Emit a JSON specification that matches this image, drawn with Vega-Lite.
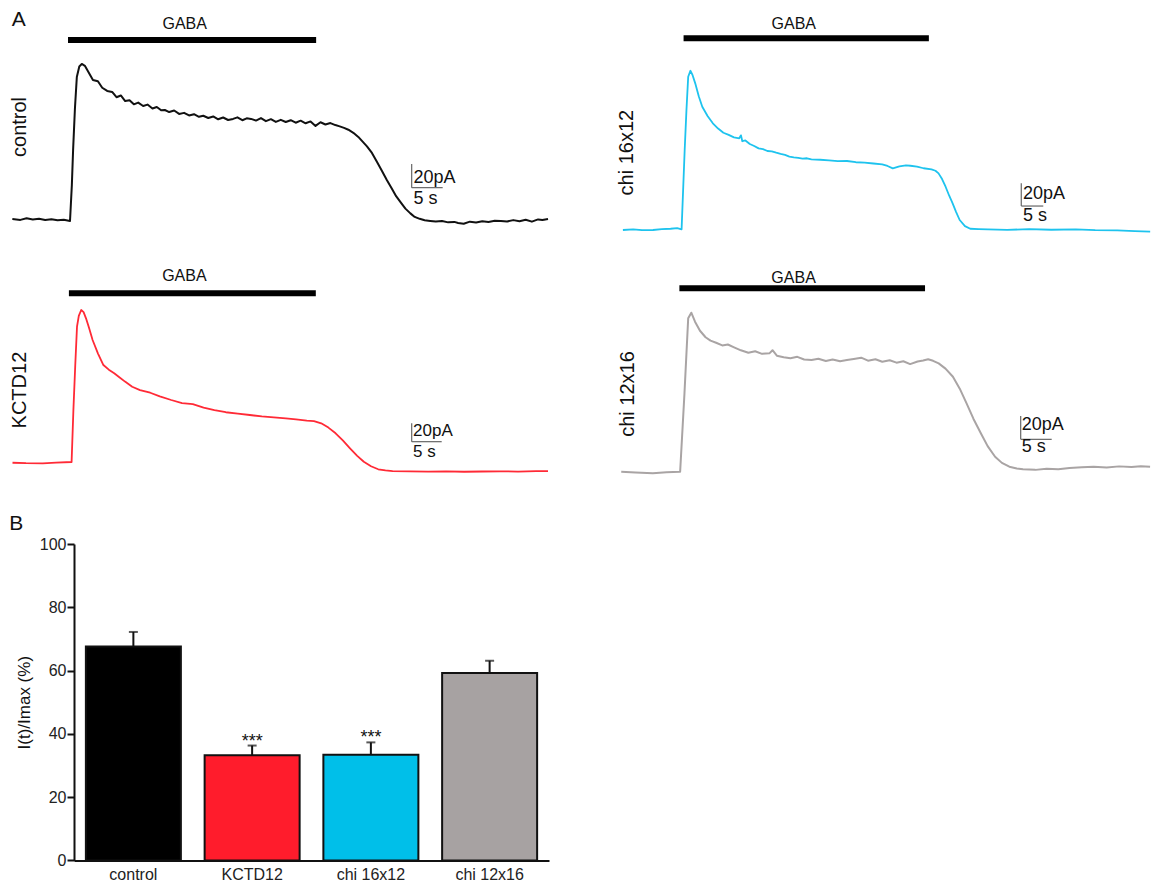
{
  "$schema": "https://vega.github.io/schema/vega-lite/v6.json",
  "usermeta": {"embedOptions": {"actions": false}},
  "background": "white",
  "padding": {"left": 8, "top": 8, "right": 0, "bottom": 0},
  "config": {
    "font": "Liberation Sans",
    "view": {"stroke": null},
    "text": {"color": "#111"}
  },
  "datasets": {
    "control": [
      {"t":0.7,"pA":1.3},{"t":2,"pA":0.5},{"t":3,"pA":1.8},{"t":4,"pA":0.9},{"t":5,"pA":1.5},{"t":6,"pA":0.4},{"t":7,"pA":1.0},{"t":8,"pA":0.2},{"t":9,"pA":0.6},{"t":10.0,"pA":-0.4},
      {"t":10.3,"pA":30},{"t":10.5,"pA":59.5},{"t":10.8,"pA":95},{"t":11.1,"pA":121},{"t":11.5,"pA":130},{"t":11.9,"pA":132.1},{"t":12.4,"pA":130.5},{"t":12.9,"pA":126},{"t":13.7,"pA":118.6},{"t":14.5,"pA":117.5},
      {"t":15.2,"pA":112},{"t":16.0,"pA":109.3},{"t":16.8,"pA":108.5},{"t":17.5,"pA":104},{"t":18.2,"pA":105.5},{"t":18.9,"pA":100.8},{"t":19.6,"pA":101.5},{"t":20.3,"pA":98},{"t":21.0,"pA":99.5},{"t":21.8,"pA":96.6},
      {"t":22.5,"pA":97.8},{"t":23.3,"pA":94.5},{"t":24.0,"pA":95.8},{"t":24.7,"pA":93},{"t":25.3,"pA":93.2},{"t":26.0,"pA":91.5},{"t":26.8,"pA":92.8},{"t":27.6,"pA":89.9},{"t":28.4,"pA":90.8},{"t":29.2,"pA":88.6},
      {"t":30.0,"pA":89.7},{"t":30.8,"pA":87.5},{"t":31.5,"pA":88.4},{"t":32.3,"pA":86.5},{"t":33.1,"pA":87.8},{"t":33.9,"pA":85.4},{"t":34.7,"pA":86.9},{"t":35.5,"pA":84.8},{"t":36.3,"pA":85.7},{"t":37.0,"pA":87},
      {"t":37.8,"pA":84.6},{"t":38.5,"pA":86.2},{"t":39.2,"pA":85.7},{"t":40.0,"pA":84.3},{"t":40.8,"pA":86.4},{"t":41.6,"pA":83.8},{"t":42.4,"pA":85.5},{"t":43.2,"pA":83.2},{"t":44.0,"pA":84.9},{"t":44.8,"pA":83.1},
      {"t":45.6,"pA":84.6},{"t":46.4,"pA":82.5},{"t":47.2,"pA":84.2},{"t":48.0,"pA":82.0},{"t":48.8,"pA":83.6},{"t":49.6,"pA":79.8},{"t":50.4,"pA":82.9},{"t":51.2,"pA":81.0},{"t":52.0,"pA":82.2},{"t":52.8,"pA":80.5},
      {"t":53.5,"pA":79.4},{"t":54.2,"pA":78.1},{"t":54.9,"pA":76.6},{"t":55.7,"pA":74.0},{"t":56.5,"pA":70.5},{"t":57.2,"pA":66.5},{"t":57.9,"pA":62.5},{"t":58.7,"pA":57.0},{"t":59.5,"pA":49.5},{"t":60.3,"pA":42},
      {"t":61.1,"pA":34.2},{"t":61.9,"pA":27},{"t":62.6,"pA":20.5},{"t":63.4,"pA":14.8},{"t":64.1,"pA":10},{"t":64.9,"pA":6},{"t":65.6,"pA":3.0},{"t":66.4,"pA":1.4},{"t":67.2,"pA":0.2},{"t":68.1,"pA":-0.4},
      {"t":69.0,"pA":-0.9},{"t":70.0,"pA":-0.5},{"t":71.0,"pA":-1.6},{"t":72.0,"pA":-1.2},{"t":72.6,"pA":-2.1},{"t":73.5,"pA":-2.8},{"t":74.5,"pA":-1.0},{"t":75.5,"pA":-1.7},{"t":76.5,"pA":-0.6},{"t":77.5,"pA":-1.2},
      {"t":78.5,"pA":-0.3},{"t":79.5,"pA":-0.4},{"t":80.5,"pA":-0.9},{"t":81.5,"pA":0.3},{"t":82.5,"pA":-0.6},{"t":83.5,"pA":0.6},{"t":84.5,"pA":-1.0},{"t":85.5,"pA":0.9},{"t":86.2,"pA":0.4},{"t":87.1,"pA":1.3}
    ],
    "kctd12": [
      {"t":0.75,"pA":0.3},{"t":3,"pA":-0.2},{"t":5.8,"pA":-0.3},{"t":8,"pA":0.5},{"t":10.6,"pA":1.1},{"t":10.9,"pA":57.6},{"t":11.2,"pA":105},{"t":11.5,"pA":148.2},{"t":11.8,"pA":160},{"t":12.2,"pA":166.3},
      {"t":12.6,"pA":164},{"t":13.0,"pA":157.3},{"t":13.5,"pA":147},{"t":14.1,"pA":133.7},{"t":15.0,"pA":119},{"t":15.9,"pA":106.5},{"t":16.8,"pA":101.5},{"t":17.7,"pA":97.5},{"t":18.5,"pA":93.5},{"t":19.5,"pA":88.5},
      {"t":20.7,"pA":82.9},{"t":22.0,"pA":79.3},{"t":23.7,"pA":76.4},{"t":25.3,"pA":72.5},{"t":27.2,"pA":68.5},{"t":29.0,"pA":65.2},{"t":30.8,"pA":64.1},{"t":32.6,"pA":60.3},{"t":34.4,"pA":57.6},{"t":36.3,"pA":55.2},
      {"t":38.3,"pA":53.6},{"t":40.3,"pA":52.2},{"t":42.3,"pA":50.6},{"t":44.3,"pA":49.7},{"t":46.3,"pA":48.6},{"t":48.0,"pA":47.4},{"t":49.8,"pA":46.0},{"t":51.0,"pA":45.6},{"t":52.2,"pA":43.2},{"t":53.4,"pA":38.5},
      {"t":54.6,"pA":32.3},{"t":55.8,"pA":24.5},{"t":57.0,"pA":16.0},{"t":58.2,"pA":7.8},{"t":59.3,"pA":1.4},{"t":60.5,"pA":-3.5},{"t":61.7,"pA":-6.8},{"t":62.9,"pA":-8.1},{"t":64.1,"pA":-8.7},{"t":67,"pA":-9.0},
      {"t":70,"pA":-9.4},{"t":73,"pA":-9.1},{"t":76.0,"pA":-9.5},{"t":79,"pA":-9.2},{"t":82,"pA":-9.0},{"t":85,"pA":-9.3},{"t":88,"pA":-8.8},{"t":90.0,"pA":-8.7}
    ],
    "chi1612": [
      {"t":0.66,"pA":-0.4},{"t":3,"pA":0.2},{"t":5,"pA":-0.6},{"t":7.5,"pA":-0.4},{"t":9.5,"pA":0.3},{"t":11.5,"pA":0.7},{"t":13,"pA":1.2},{"t":14.0,"pA":0.2},{"t":14.7,"pA":70.0},{"t":15.1,"pA":105},
      {"t":15.5,"pA":134.6},{"t":16.0,"pA":139.9},{"t":16.5,"pA":136},{"t":17.1,"pA":128.8},{"t":17.9,"pA":117.5},{"t":18.7,"pA":108.2},{"t":19.9,"pA":100},{"t":21.1,"pA":93.6},{"t":22.3,"pA":89},{"t":23.5,"pA":85.3},
      {"t":24.7,"pA":83.4},{"t":25.9,"pA":81.2},{"t":27.1,"pA":80.4},{"t":27.5,"pA":83},{"t":27.8,"pA":77.8},{"t":28.5,"pA":78.5},{"t":29.5,"pA":75.4},{"t":30.5,"pA":73.6},{"t":31.5,"pA":71.5},{"t":32.5,"pA":70.8},
      {"t":33.5,"pA":69.2},{"t":34.5,"pA":68.9},{"t":35.5,"pA":67.7},{"t":36.5,"pA":66.6},{"t":37.5,"pA":65.8},{"t":38.5,"pA":64.3},{"t":39.5,"pA":63.6},{"t":40.5,"pA":63.2},{"t":41.5,"pA":62.4},{"t":42.5,"pA":62.8},
      {"t":43.5,"pA":61.8},{"t":45.5,"pA":61.5},{"t":47.5,"pA":61.0},{"t":49.5,"pA":60.2},{"t":51.6,"pA":60.4},{"t":53.6,"pA":59.3},{"t":55.6,"pA":59.0},{"t":57.6,"pA":58.2},{"t":59.6,"pA":57.4},{"t":60.8,"pA":56.0},
      {"t":62.0,"pA":53.9},{"t":63.5,"pA":55.6},{"t":65.0,"pA":56.6},{"t":66.0,"pA":56.2},{"t":67.5,"pA":55.5},{"t":69.0,"pA":54.0},{"t":70.8,"pA":53.0},{"t":71.7,"pA":51.8},{"t":72.4,"pA":49.5},{"t":73.2,"pA":44.5},
      {"t":74.0,"pA":37.7},{"t":74.8,"pA":30},{"t":75.6,"pA":23.1},{"t":76.4,"pA":15.4},{"t":77.2,"pA":8.4},{"t":78.4,"pA":3.0},{"t":79.6,"pA":0.7},{"t":81.5,"pA":0.4},{"t":83.6,"pA":0.2},{"t":88,"pA":-0.3},
      {"t":93,"pA":0.4},{"t":98,"pA":-0.2},{"t":103.6,"pA":0.2},{"t":108,"pA":-0.6},{"t":113,"pA":-0.8},{"t":117,"pA":-1.4},{"t":120.5,"pA":-1.9}
    ],
    "chi1216": [
      {"t":0.2,"pA":0},{"t":2.5,"pA":-0.6},{"t":5.3,"pA":-1.4},{"t":7.5,"pA":-0.4},{"t":9.7,"pA":0},{"t":10.4,"pA":67.3},{"t":11.0,"pA":131.7},{"t":11.5,"pA":136.5},{"t":12.1,"pA":128.8},{"t":12.9,"pA":121},
      {"t":13.8,"pA":115.4},{"t":14.6,"pA":112.5},{"t":15.5,"pA":110.7},{"t":16.5,"pA":108.4},{"t":17.4,"pA":109.2},{"t":18.4,"pA":106.8},{"t":19.5,"pA":104.2},{"t":20.7,"pA":102.1},{"t":21.8,"pA":103.4},{"t":22.9,"pA":101.2},
      {"t":24.1,"pA":101.6},{"t":24.6,"pA":104.3},{"t":25.3,"pA":99.6},{"t":26.4,"pA":98.2},{"t":27.5,"pA":97.4},{"t":28.6,"pA":98.6},{"t":29.7,"pA":96.3},{"t":30.9,"pA":95.9},{"t":32.0,"pA":97.0},{"t":33.2,"pA":95.0},
      {"t":34.3,"pA":96.4},{"t":35.5,"pA":94.9},{"t":36.6,"pA":95.9},{"t":37.7,"pA":96.8},{"t":38.9,"pA":97.9},{"t":40.0,"pA":95.3},{"t":41.2,"pA":96.5},{"t":42.3,"pA":94.4},{"t":43.5,"pA":95.7},{"t":44.6,"pA":93.6},
      {"t":45.7,"pA":94.8},{"t":46.8,"pA":92.4},{"t":48.0,"pA":94.6},{"t":48.9,"pA":95.4},{"t":49.7,"pA":96.5},{"t":50.5,"pA":95.2},{"t":51.4,"pA":93.0},{"t":52.5,"pA":88.5},{"t":53.7,"pA":81.5},{"t":54.8,"pA":71.3},
      {"t":55.9,"pA":58.7},{"t":57.0,"pA":45.5},{"t":58.2,"pA":33.0},{"t":59.3,"pA":22.0},{"t":60.5,"pA":12.9},{"t":61.6,"pA":7.6},{"t":62.8,"pA":4.3},{"t":64.0,"pA":2.8},{"t":65.0,"pA":2.1},{"t":67.0,"pA":1.6},
      {"t":68.8,"pA":2.6},{"t":70.7,"pA":2.1},{"t":72.5,"pA":3.3},{"t":74.5,"pA":3.8},{"t":76.4,"pA":4.3},{"t":78.5,"pA":3.6},{"t":80.5,"pA":4.6},{"t":82.5,"pA":4.0},{"t":84.0,"pA":4.7},{"t":85.5,"pA":4.3}
    ],
    "summary": [
      {"group":"control","mean":67.6,"upper":72.2,"sig":""},
      {"group":"KCTD12","mean":33.2,"upper":36.3,"sig":"***"},
      {"group":"chi 16x12","mean":33.4,"upper":37.3,"sig":"***"},
      {"group":"chi 12x16","mean":59.2,"upper":63.1,"sig":""}
    ]
  },
  "spacing": 26,
  "vconcat": [
    {
      "bounds": "flush",
      "spacing": 70,
      "hconcat": [
        {
          "width": 542,
          "height": 228,
          "encoding": {
            "x": {"field": "t", "type": "quantitative", "scale": {"domain": [0, 87.42], "nice": false, "zero": false}, "axis": null},
            "y": {"field": "pA", "type": "quantitative", "scale": {"domain": [-13.1, 179.3], "nice": false, "zero": false}, "axis": null}
          },
          "layer": [
            {"data": {"name": "control"}, "mark": {"type": "line", "color": "#111", "strokeWidth": 2, "strokeJoin": "round"}},
            {"data": {"values": [{"t": 9.68, "t2": 49.7, "pA": 152.3}]}, "mark": {"type": "rule", "color": "#000", "strokeWidth": 6}, "encoding": {"x2": {"field": "t2"}}},
            {"data": {"values": [{"t": 28.5, "pA": 165.8, "label": "GABA"}]}, "mark": {"type": "text", "fontSize": 16, "baseline": "middle"}, "encoding": {"text": {"field": "label"}}},
            {"data": {"values": [{"t": 65.11, "t2": 65.11, "pA": 27.7, "pA2": 47.7}, {"t": 65.11, "t2": 70.11, "pA": 27.7, "pA2": 27.7}]}, "mark": {"type": "rule", "color": "#666", "strokeWidth": 1.2}, "encoding": {"x2": {"field": "t2"}, "y2": {"field": "pA2"}}},
            {"data": {"values": [{"t": 65.4, "pA": 35.9, "label": "20pA"}, {"t": 65.4, "pA": 18.1, "label": "5 s"}]}, "mark": {"type": "text", "fontSize": 18, "align": "left", "baseline": "middle"}, "encoding": {"text": {"field": "label"}}},
            {"data": {"values": [{"t": 1.9, "pA": 78.9, "label": "control"}]}, "mark": {"type": "text", "fontSize": 20, "angle": 270, "align": "center", "baseline": "middle"}, "encoding": {"text": {"field": "label"}}},
            {"data": {"values": [{"t": 0.6, "pA": 169.2, "label": "A"}]}, "mark": {"type": "text", "fontSize": 21, "align": "left", "baseline": "middle"}, "encoding": {"text": {"field": "label"}}}
          ]
        },
        {
          "width": 533,
          "height": 228,
          "encoding": {
            "x": {"field": "t", "type": "quantitative", "scale": {"domain": [0, 121.14], "nice": false, "zero": false}, "axis": null},
            "y": {"field": "pA", "type": "quantitative", "scale": {"domain": [-5.7, 195.2], "nice": false, "zero": false}, "axis": null}
          },
          "layer": [
            {"data": {"name": "chi1612"}, "mark": {"type": "line", "color": "#1EC3EE", "strokeWidth": 1.8, "strokeJoin": "round"}},
            {"data": {"values": [{"t": 14.45, "t2": 70.2, "pA": 168.5}]}, "mark": {"type": "rule", "color": "#000", "strokeWidth": 6}, "encoding": {"x2": {"field": "t2"}}},
            {"data": {"values": [{"t": 39.5, "pA": 181.1, "label": "GABA"}]}, "mark": {"type": "text", "fontSize": 16, "baseline": "middle"}, "encoding": {"text": {"field": "label"}}},
            {"data": {"values": [{"t": 91.2, "t2": 91.2, "pA": 20.7, "pA2": 40.7}, {"t": 91.2, "t2": 96.2, "pA": 20.7, "pA2": 20.7}]}, "mark": {"type": "rule", "color": "#666", "strokeWidth": 1.2}, "encoding": {"x2": {"field": "t2"}, "y2": {"field": "pA2"}}},
            {"data": {"values": [{"t": 91.6, "pA": 31.3, "label": "20pA"}, {"t": 91.6, "pA": 12.3, "label": "5 s"}]}, "mark": {"type": "text", "fontSize": 18, "align": "left", "baseline": "middle"}, "encoding": {"text": {"field": "label"}}},
            {"data": {"values": [{"t": 1.48, "pA": 67.8, "label": "chi 16x12"}]}, "mark": {"type": "text", "fontSize": 20, "angle": 270, "align": "center", "baseline": "middle"}, "encoding": {"text": {"field": "label"}}}
          ]
        }
      ]
    },
    {
      "bounds": "flush",
      "spacing": 70,
      "hconcat": [
        {
          "width": 542,
          "height": 224.3,
          "encoding": {
            "x": {"field": "t", "type": "quantitative", "scale": {"domain": [0, 90.33], "nice": false, "zero": false}, "axis": null},
            "y": {"field": "pA", "type": "quantitative", "scale": {"domain": [-25.3, 218.5], "nice": false, "zero": false}, "axis": null}
          },
          "layer": [
            {"data": {"name": "kctd12"}, "mark": {"type": "line", "color": "#FF2A36", "strokeWidth": 1.8, "strokeJoin": "round"}},
            {"data": {"values": [{"t": 10.15, "t2": 51.3, "pA": 184.5}]}, "mark": {"type": "rule", "color": "#000", "strokeWidth": 6}, "encoding": {"x2": {"field": "t2"}}},
            {"data": {"values": [{"t": 29.4, "pA": 203.5, "label": "GABA"}]}, "mark": {"type": "text", "fontSize": 16, "baseline": "middle"}, "encoding": {"text": {"field": "label"}}},
            {"data": {"values": [{"t": 67.28, "t2": 67.28, "pA": 23.2, "pA2": 43.2}, {"t": 67.28, "t2": 72.28, "pA": 23.2, "pA2": 23.2}]}, "mark": {"type": "rule", "color": "#666", "strokeWidth": 1.2}, "encoding": {"x2": {"field": "t2"}, "y2": {"field": "pA2"}}},
            {"data": {"values": [{"t": 67.5, "pA": 34.3, "label": "20pA"}, {"t": 67.5, "pA": 12.2, "label": "5 s"}]}, "mark": {"type": "text", "fontSize": 17, "align": "left", "baseline": "middle"}, "encoding": {"text": {"field": "label"}}},
            {"data": {"values": [{"t": 1.93, "pA": 79.3, "label": "KCTD12"}]}, "mark": {"type": "text", "fontSize": 20, "angle": 270, "align": "center", "baseline": "middle"}, "encoding": {"text": {"field": "label"}}}
          ]
        },
        {
          "width": 533,
          "height": 224.3,
          "encoding": {
            "x": {"field": "t", "type": "quantitative", "scale": {"domain": [0, 85.97], "nice": false, "zero": false}, "axis": null},
            "y": {"field": "pA", "type": "quantitative", "scale": {"domain": [-12.5, 180.0], "nice": false, "zero": false}, "axis": null}
          },
          "layer": [
            {"data": {"name": "chi1216"}, "mark": {"type": "line", "color": "#A9A4A4", "strokeWidth": 2, "strokeJoin": "round"}},
            {"data": {"values": [{"t": 9.58, "t2": 49.2, "pA": 157.4}]}, "mark": {"type": "rule", "color": "#000", "strokeWidth": 6}, "encoding": {"x2": {"field": "t2"}}},
            {"data": {"values": [{"t": 28.0, "pA": 166.3, "label": "GABA"}]}, "mark": {"type": "text", "fontSize": 16, "baseline": "middle"}, "encoding": {"text": {"field": "label"}}},
            {"data": {"values": [{"t": 64.63, "t2": 64.63, "pA": 27.8, "pA2": 47.8}, {"t": 64.63, "t2": 69.63, "pA": 27.8, "pA2": 27.8}]}, "mark": {"type": "rule", "color": "#666", "strokeWidth": 1.2}, "encoding": {"x2": {"field": "t2"}, "y2": {"field": "pA2"}}},
            {"data": {"values": [{"t": 64.8, "pA": 40.1, "label": "20pA"}, {"t": 64.8, "pA": 20.8, "label": "5 s"}]}, "mark": {"type": "text", "fontSize": 18, "align": "left", "baseline": "middle"}, "encoding": {"text": {"field": "label"}}},
            {"data": {"values": [{"t": 1.21, "pA": 66.7, "label": "chi 12x16"}]}, "mark": {"type": "text", "fontSize": 20, "angle": 270, "align": "center", "baseline": "middle"}, "encoding": {"text": {"field": "label"}}}
          ]
        }
      ]
    },
    {
      "bounds": "flush",
      "spacing": 0,
      "hconcat": [
        {
          "width": 66,
          "height": 316.4,
          "data": {"values": [{"label": ""}]},
          "mark": {"type": "text"},
          "encoding": {"text": {"field": "label"}}
        },
        {
          "width": 475,
          "height": 316.4,
          "title": {"text": "B", "anchor": "start", "frame": "bounds", "fontSize": 21, "fontWeight": "normal", "color": "#111", "offset": 2, "dx": -6},
          "data": {"name": "summary"},
          "encoding": {
            "x": {
              "field": "group", "type": "nominal",
              "sort": ["control", "KCTD12", "chi 16x12", "chi 12x16"],
              "scale": {"paddingInner": 0.2, "paddingOuter": 0.1},
              "axis": {"title": null, "labelAngle": 0, "ticks": false, "domainColor": "#111", "domainWidth": 2, "labelFontSize": 16, "labelColor": "#222", "labelPadding": 6}
            }
          },
          "layer": [
            {
              "mark": {"type": "bar", "stroke": "#111", "strokeWidth": 2},
              "encoding": {
                "y": {
                  "field": "mean", "type": "quantitative",
                  "scale": {"domain": [0, 100], "nice": false},
                  "axis": {"title": "I(t)/Imax (%)", "values": [0, 20, 40, 60, 80, 100], "grid": false, "domainColor": "#111", "domainWidth": 2, "tickColor": "#111", "tickWidth": 2, "tickSize": 7, "labelFontSize": 16, "labelColor": "#222", "labelPadding": 1, "titleFontSize": 17, "titleFontWeight": "normal", "titleColor": "#111", "titlePadding": 6}
                },
                "fill": {
                  "field": "group", "type": "nominal",
                  "scale": {"domain": ["control", "KCTD12", "chi 16x12", "chi 12x16"], "range": ["#000000", "#FF1C2C", "#00BFE9", "#A7A2A2"]},
                  "legend": null
                }
              }
            },
            {
              "mark": {"type": "rule", "color": "#111", "strokeWidth": 2},
              "encoding": {"y": {"field": "mean", "type": "quantitative"}, "y2": {"field": "upper"}}
            },
            {
              "mark": {"type": "tick", "color": "#111", "thickness": 2, "size": 9},
              "encoding": {"y": {"field": "upper", "type": "quantitative"}}
            },
            {
              "mark": {"type": "text", "fontSize": 18, "baseline": "alphabetic", "dy": 1},
              "encoding": {"y": {"field": "upper", "type": "quantitative"}, "text": {"field": "sig"}}
            }
          ]
        }
      ]
    }
  ]
}
